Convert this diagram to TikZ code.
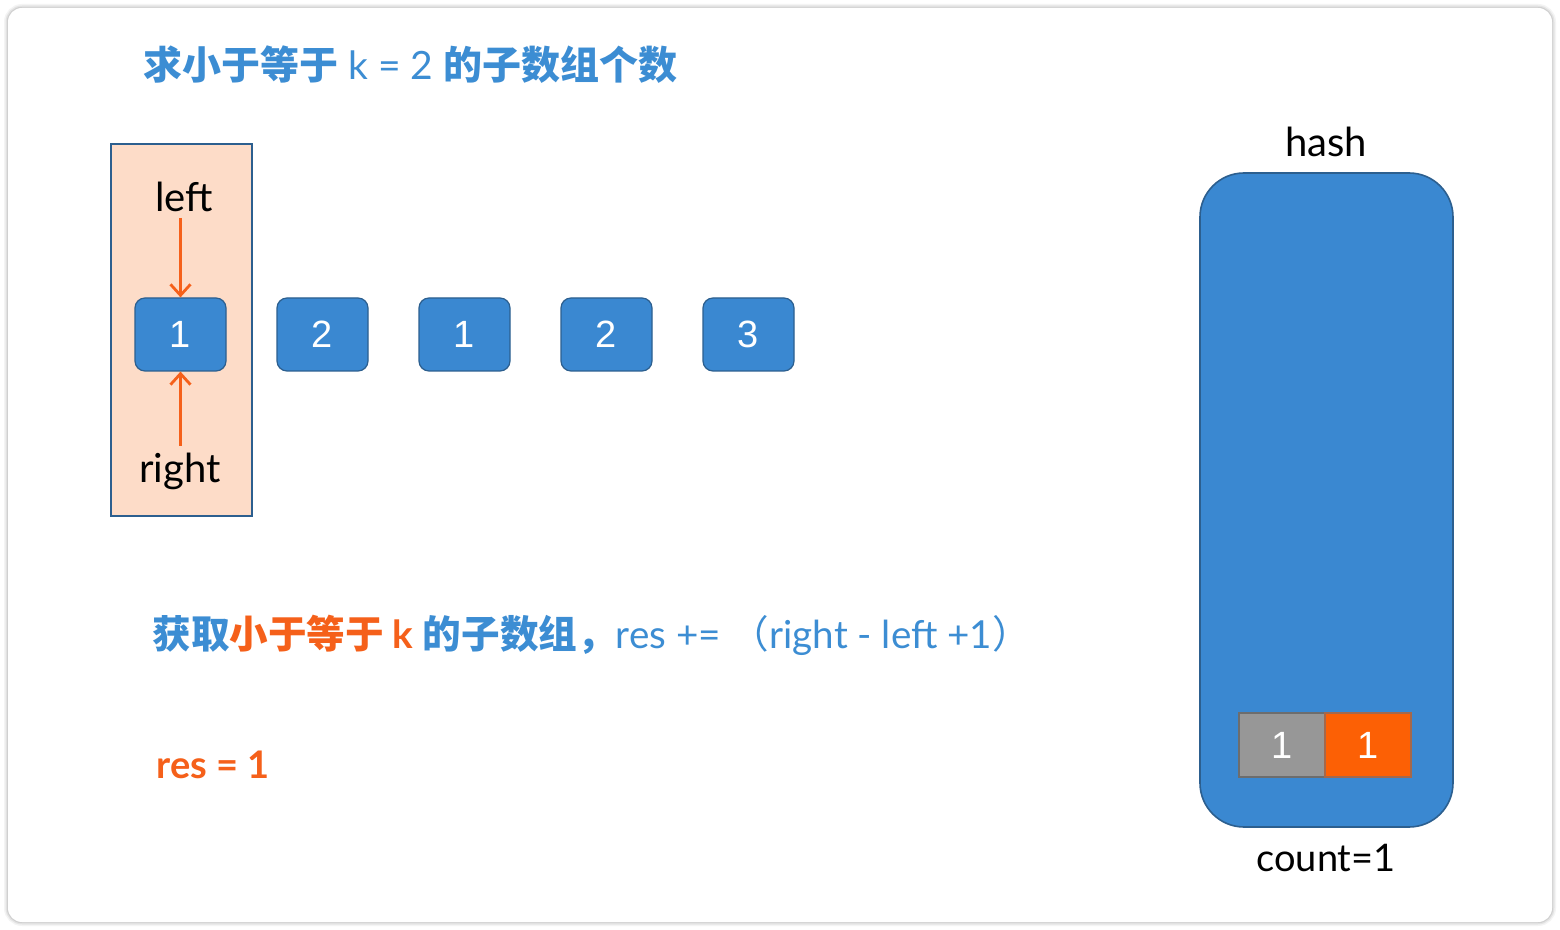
\documentclass[tikz,border=0pt]{standalone}
\usepackage{fontspec}
\usetikzlibrary{arrows.meta}
\setmainfont{Lato}
\newfontfamily\cjk{Noto Sans CJK SC}
\newfontfamily\numfont{Liberation Sans}
\definecolor{kblue}{HTML}{3A88D1}
\definecolor{kblueline}{HTML}{2C5F8F}
\definecolor{ktext}{HTML}{3C8DD3}
\definecolor{korange}{HTML}{F5601A}
\definecolor{kpink}{HTML}{FDDCC8}
\definecolor{kgray}{HTML}{979797}
\definecolor{kgrayline}{HTML}{6D6D6D}
\definecolor{kcell}{HTML}{FC6005}
\begin{document}
\begin{tikzpicture}[x=0.5pt,y=-0.5pt,
  arraybox/.style={draw=kblueline,line width=0.6pt,fill=kblue,rounded corners=5pt,
    minimum width=45.5pt,minimum height=36.5pt,inner sep=0pt,text=white,
    font=\numfont\fontsize{19}{21}\selectfont},
  cellbox/.style={draw=#1,line width=0.6pt,minimum width=43pt,minimum height=32pt,
    inner sep=0pt,text=white,font=\numfont\fontsize{19}{21}\selectfont},
  lbl/.style={font=\fontsize{20}{22}\selectfont,text=black,inner sep=0pt},
  ptr/.style={draw=korange,line width=1.4pt,-{Straight Barb[length=5.5pt,width=10pt,line width=1.4pt]}}
]
\useasboundingbox (0,0) rectangle (1560,930);
% card with shadow
\foreach \w/\o in {4/0.15,2.5/0.25,1.2/0.4}{
  \draw[line width=\w pt,black!30,opacity=\o,rounded corners=7pt] (8,8) rectangle (1552,922);
}
\fill[white,rounded corners=7pt] (8,8) rectangle (1552,922);

% title
\node[anchor=west,inner sep=0pt,text=ktext,font=\fontsize{19.5}{21}\selectfont] (title) at (143,65)
  {{\cjk\bfseries 求小于等于} k = 2 {\cjk\bfseries 的子数组个数}};

% window
\node[draw=kblueline,line width=0.8pt,fill=kpink,minimum width=70.5pt,minimum height=186pt,inner sep=0pt] (win) at (181.5,330) {};

% array
\node[arraybox] (b1) at (180.5,334.5) {1};
\node[arraybox] (b2) at (322.5,334.5) {2};
\node[arraybox] (b3) at (464.5,334.5) {1};
\node[arraybox] (b4) at (606.5,334.5) {2};
\node[arraybox] (b5) at (748.5,334.5) {3};

\node[lbl] (left) at (184,197) {left};
\node[lbl] (right) at (180,471) {right};
\coordinate (ls) at (180.5,218);
\coordinate (rs) at (180.5,446);
\draw[ptr] (ls) -- (b1.north);
\draw[ptr] (rs) -- (b1.south);

% explanation
\node[anchor=west,inner sep=0pt,text=ktext,font=\fontsize{19.3}{21}\selectfont] (expl) at (152,635)
  {{\cjk\bfseries 获取}{\color{korange}\cjk\bfseries 小于等于 }{\color{korange}\bfseries k }{\cjk\bfseries 的子数组，}res += {\cjk （}right - left +1{\cjk ）}};

\node[anchor=west,inner sep=0pt,text=korange,font=\bfseries\fontsize{19}{21}\selectfont] (res) at (156,765) {res = 1};

% hash
\node[draw=kblueline,line width=0.8pt,fill=kblue,rounded corners=22pt,minimum width=126.5pt,minimum height=327pt,inner sep=0pt] (hash) at (1326.5,500) {};
\node[lbl] (hashlbl) at (1326,142) {hash};
\node[cellbox=kgrayline,fill=kgray] (c1) at (1282,745) {1};
\node[cellbox=kgrayline!60!korange,fill=kcell] (c2) at (1368,745) {1};
\node[lbl,font=\fontsize{19}{21}\selectfont] (count) at (1326,858) {count=1};
\end{tikzpicture}
\end{document}
